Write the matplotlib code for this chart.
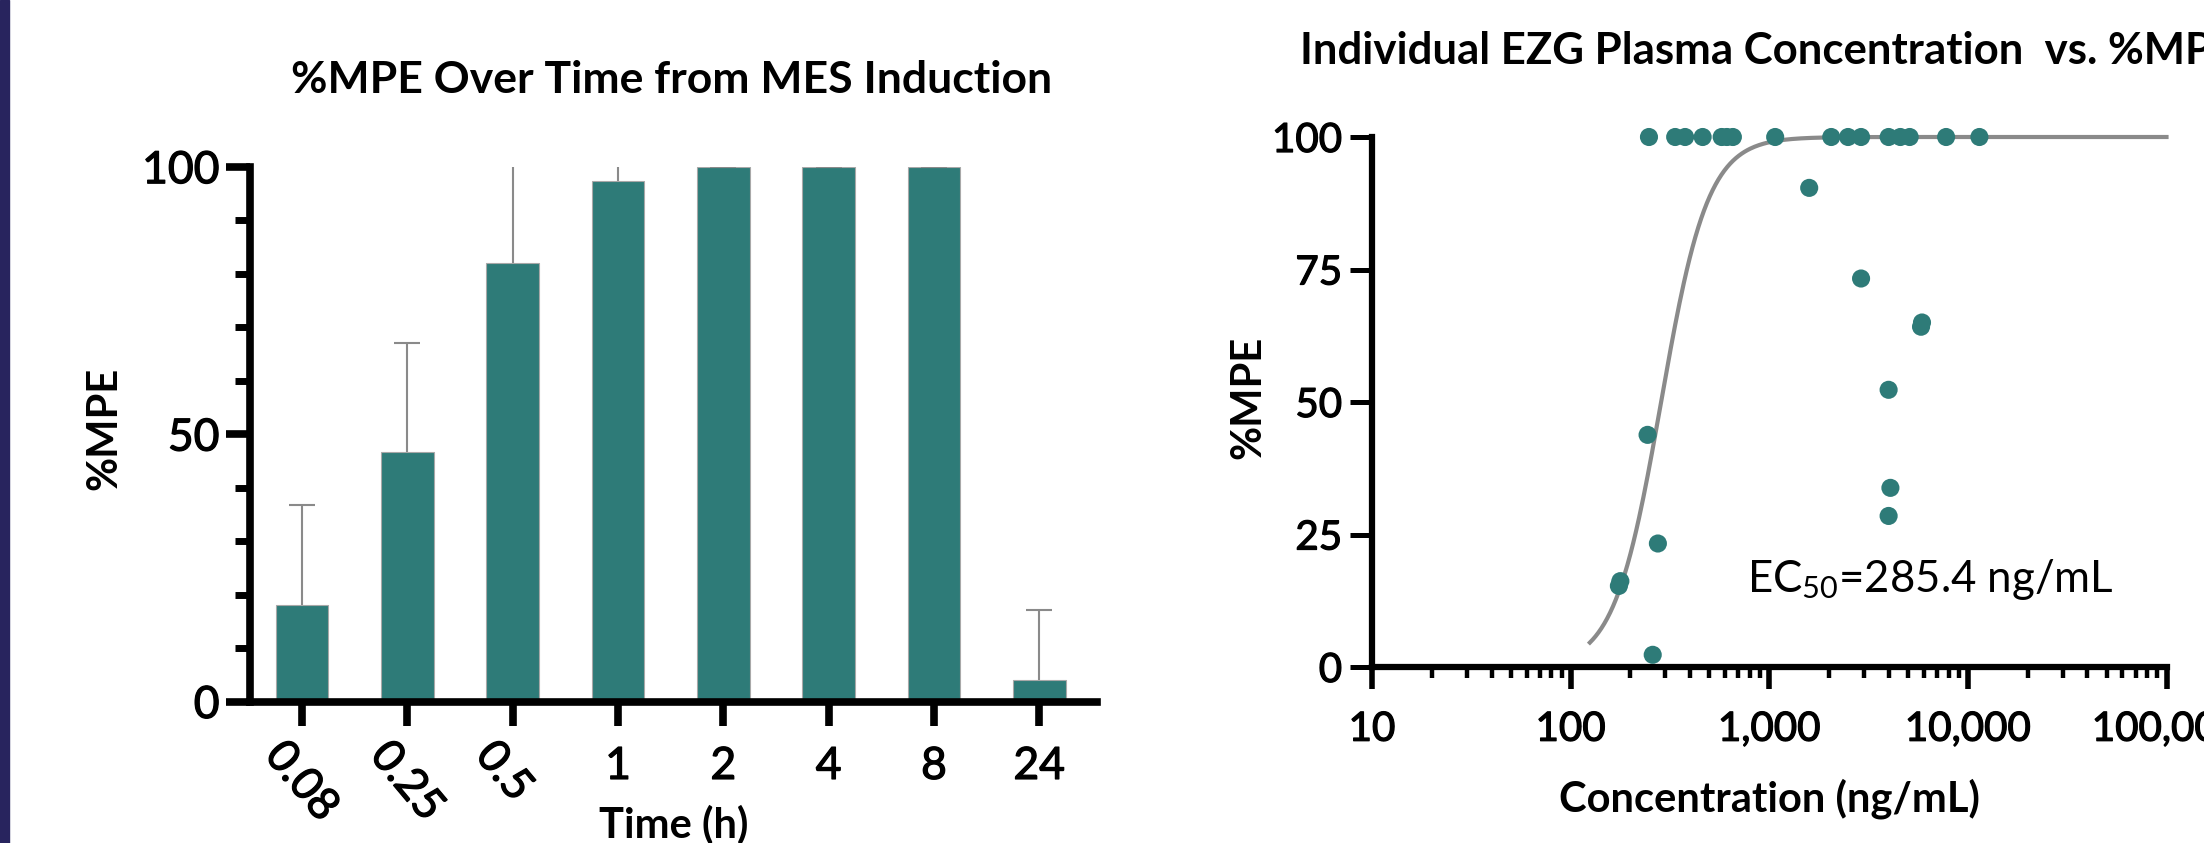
import matplotlib
matplotlib.use("Agg")
import matplotlib.pyplot as plt
import matplotlib.transforms as mtransforms
import matplotlib.patheffects as pe
from matplotlib.patches import Rectangle
from matplotlib.ticker import MultipleLocator, LogLocator, FuncFormatter, NullFormatter
import numpy as np

# --- data: %MPE over time (bar chart) ---
time_labels = ["0.08", "0.25", "0.5", "1", "2", "4", "8", "24"]
mpe_mean = [18.0, 46.6, 82.0, 97.4, 100, 100, 100, 4.0]
mpe_sd = [18.7, 20.5, 20.0, 5.0, 0, 0, 0, 13.2]   # upper bars; 0.5 and 1 run past the axis top

# --- data: individual plasma concentration vs %MPE ---
conc = [248, 336, 377, 462, 576, 612, 656, 1071, 2052, 2494, 2899, 3990, 4571, 5093, 7770, 11430,
        1589, 2899, 5875, 5810, 3990, 4074, 3990, 244, 275, 175, 178, 259]
mpe = [100, 100, 100, 100, 100, 100, 100, 100, 100, 100, 100, 100, 100, 100, 100, 100,
       90.4, 73.3, 65.0, 64.2, 52.3, 33.8, 28.5, 43.8, 23.3, 15.3, 16.2, 2.3]

# fitted dose-response curve parameters
ec50 = 285.4
hill = 3.67
fit_bottom, fit_top = 0, 100
fit_range = (125, 1e5)

teal = "#2E7B78"
grey = "#8A8A8A"

plt.rcParams["font.family"] = ["Lato", "DejaVu Sans"]
plt.rcParams["mathtext.fontset"] = "custom"
plt.rcParams["mathtext.rm"] = "Lato"
plt.rcParams["mathtext.default"] = "regular"

# tick labels in the original are a touch heavier than Lato Regular
heavier = [pe.Stroke(linewidth=0.9, foreground="black"), pe.Normal()]

W, H = 2204, 843
fig = plt.figure(figsize=(W / 100, H / 100), dpi=100)

# navy stripe on the left edge
fig.patches.append(Rectangle((0, 0), 9 / W, 1, transform=fig.transFigure,
                             color="#28245E", zorder=0))

# ---------------- left: bar chart ----------------
ax1 = fig.add_axes([249.5 / W, (H - 701.5) / H, 847.7 / W, 534.8 / H])
x = np.arange(len(time_labels))
ax1.bar(x, mpe_mean, width=0.5, color=teal, edgecolor="#A8A8A8", linewidth=0.8, zorder=2)
_, caps, _ = ax1.errorbar(x, mpe_mean, yerr=[np.zeros(len(x)), mpe_sd], fmt="none",
                          ecolor=grey, elinewidth=1.5, capsize=9.4, capthick=1.5, zorder=3)
# only the upper caps are wanted
for cl in caps:
    if np.allclose(cl.get_ydata(), mpe_mean):
        cl.set_visible(False)

ax1.set_xlim(-0.5, 7.55)
ax1.set_ylim(0, 100)
ax1.set_yticks([0, 50, 100])
ax1.yaxis.set_minor_locator(MultipleLocator(10))
ax1.set_xticks(x)
ax1.set_xticklabels(time_labels)
for s in ["top", "right"]:
    ax1.spines[s].set_visible(False)
for s in ["left", "bottom"]:
    ax1.spines[s].set_linewidth(5.5)
ax1.tick_params(axis="y", which="major", direction="out", length=17, width=5.5,
                labelsize=32, pad=4.5)
ax1.tick_params(axis="y", which="minor", direction="out", length=10.5, width=5)
ax1.tick_params(axis="x", which="major", direction="out", length=17, width=5.5,
                labelsize=32, pad=15)
for lab in ax1.get_xticklabels() + ax1.get_yticklabels():
    lab.set_path_effects(heavier)

# first three labels are slanted
shift = mtransforms.ScaledTranslation(-0.29, -0.02, fig.dpi_scale_trans)
for lab in ax1.get_xticklabels()[:3]:
    lab.set_rotation(-50)
    lab.set_rotation_mode("anchor")
    lab.set_ha("left")
    lab.set_va("center")
    lab.set_transform(lab.get_transform() + shift)

ax1.set_ylabel("%MPE", fontsize=30, fontweight="bold")
ax1.yaxis.set_label_coords(-0.1486, 0.51)
ax1.set_xlabel("Time (h)", fontsize=30, fontweight="bold")
ax1.xaxis.set_label_coords(0.5, -0.1935)

fig.text(672 / W, 1 - 93 / H, "%MPE Over Time from MES Induction",
         fontsize=32, fontweight="bold", ha="center", va="baseline")

# ---------------- right: concentration vs %MPE ----------------
ax2 = fig.add_axes([1372 / W, (H - 667) / H, 794.5 / W, 530 / H])
ax2.set_xscale("log")
ax2.set_xlim(10, 1e5)
ax2.set_ylim(0, 100)

xc = np.logspace(np.log10(fit_range[0]), np.log10(fit_range[1]), 400)
yc = fit_bottom + (fit_top - fit_bottom) / (1 + (ec50 / xc) ** hill)
ax2.plot(xc, yc, color=grey, linewidth=3.0, clip_on=False, zorder=2)
ax2.scatter(conc, mpe, s=170, color=teal, edgecolors="none", clip_on=False, zorder=3)

ax2.set_yticks([0, 25, 50, 75, 100])
ax2.xaxis.set_major_locator(LogLocator(base=10, numticks=10))
ax2.xaxis.set_minor_locator(LogLocator(base=10, subs=np.arange(2, 10), numticks=50))
ax2.xaxis.set_major_formatter(FuncFormatter(lambda v, p: f"{v:,.0f}"))
ax2.xaxis.set_minor_formatter(NullFormatter())
for s in ["top", "right"]:
    ax2.spines[s].set_visible(False)
for s in ["left", "bottom"]:
    ax2.spines[s].set_linewidth(4.5)
ax2.tick_params(axis="y", which="major", direction="out", length=15.5, width=3.6,
                labelsize=29, pad=6)
ax2.tick_params(axis="x", which="major", direction="out", length=15.5, width=4.0,
                labelsize=29, pad=16)
ax2.tick_params(axis="x", which="minor", direction="out", length=8, width=3.2)
for lab in ax2.get_xticklabels() + ax2.get_yticklabels():
    lab.set_path_effects(heavier)

ax2.set_ylabel("%MPE", fontsize=30, fontweight="bold")
ax2.yaxis.set_label_coords(-0.1315, 0.509)
ax2.set_xlabel("Concentration (ng/mL)", fontsize=30, fontweight="bold")
ax2.xaxis.set_label_coords(0.5, -0.211)

ax2.text(771, 14.2, r"EC$_{50}$=285.4 ng/mL", fontsize=31.5, ha="left", va="baseline")

fig.text(1300 / W, 1 - 64 / H, "Individual EZG Plasma Concentration  vs. %MPE",
         fontsize=31.5, fontweight="bold", ha="left", va="baseline")

fig.savefig("out.png", dpi=100)
